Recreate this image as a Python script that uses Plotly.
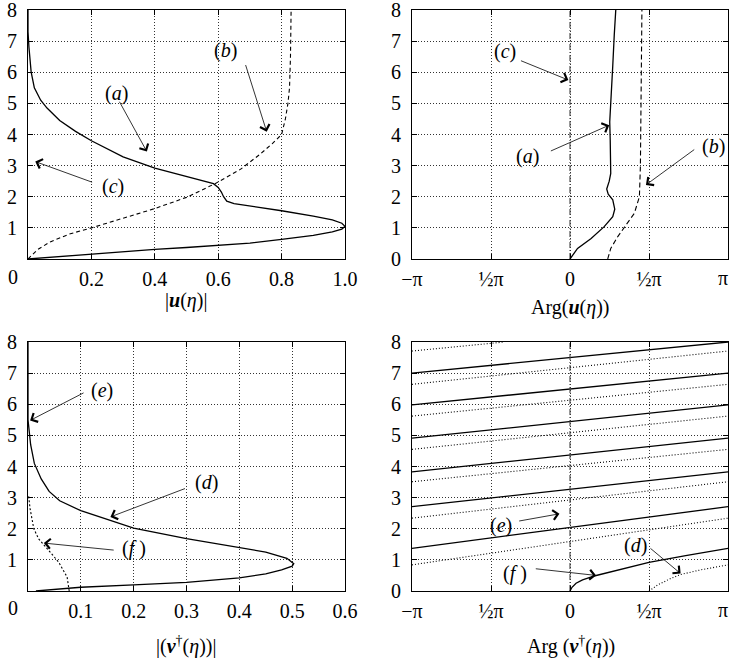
import math
import plotly.graph_objects as go

PI = math.pi

# ---------------- data ----------------
# Panel 1: |u(eta)|
p1_a_abs = [0, 0.1, 0.2, 0.3, 0.4, 0.5, 0.6, 0.7, 0.8, 0.9, 0.96, 0.99, 1.0, 0.99, 0.96, 0.9, 0.8, 0.7,
            0.65, 0.627, 0.617, 0.61, 0.6, 0.585, 0.5, 0.4, 0.3, 0.2, 0.15, 0.1, 0.06, 0.04, 0.02, 0.01,
            0.003, 0.0, 0.0]
p1_a_eta = [0, 0.08, 0.16, 0.23, 0.31, 0.37, 0.43, 0.51, 0.63, 0.76, 0.87, 0.96, 1.05, 1.15, 1.26, 1.38,
            1.55, 1.7, 1.78, 1.86, 2.0, 2.15, 2.3, 2.42, 2.64, 2.92, 3.28, 3.8, 4.1, 4.45, 4.85, 5.1, 5.5,
            6.0, 6.8, 7.3, 8.0]
p1_b_abs = [0, 0.01, 0.03, 0.07, 0.13, 0.2, 0.3, 0.4, 0.5, 0.59, 0.67, 0.73, 0.77, 0.8, 0.812, 0.82,
            0.825, 0.828, 0.83]
p1_b_eta = [0, 0.1, 0.3, 0.55, 0.8, 1.0, 1.3, 1.62, 1.98, 2.42, 2.88, 3.35, 3.7, 4.0, 4.5, 5.0, 5.5,
            6.5, 8.0]

# Panel 2: Arg(u(eta))
p2_a_arg = [0, 0.15, 0.42, 0.68, 0.85, 0.89, 0.85, 0.76, 0.73, 0.78, 0.81, 0.8, 0.8, 0.79, 0.82, 0.85,
            0.88, 0.91]
p2_a_eta = [0, 0.34, 0.66, 1.04, 1.36, 1.6, 1.9, 2.08, 2.25, 2.5, 2.75, 3.2, 3.8, 4.4, 5.2, 6.2, 7.2, 8.0]
p2_b_arg = [0.75, 0.81, 0.95, 1.14, 1.28, 1.34, 1.38, 1.40, 1.41, 1.43]
p2_b_eta = [0, 0.34, 0.72, 1.15, 1.47, 1.79, 2.0, 3.0, 5.0, 8.0]
p2_c_arg = [0, 0]
p2_c_eta = [0, 8]

# Panel 3: |v†(eta)|
p3_d_abs = [0.015, 0.05, 0.1, 0.2, 0.3, 0.4, 0.45, 0.48, 0.5, 0.503, 0.49, 0.45, 0.4, 0.3, 0.2, 0.15,
            0.1, 0.06, 0.04, 0.025, 0.012, 0.005, 0.002, 0.0, 0.0]
p3_d_eta = [0, 0.05, 0.12, 0.2, 0.28, 0.42, 0.55, 0.68, 0.8, 0.88, 1.05, 1.25, 1.4, 1.68, 2.02, 2.3,
            2.58, 2.9, 3.2, 3.6, 4.1, 4.7, 5.2, 5.5, 8.0]
p3_f_abs = [0.078, 0.074, 0.058, 0.036, 0.02, 0.011, 0.004, 0.001]
p3_f_eta = [0, 0.45, 0.93, 1.36, 1.68, 2.0, 2.64, 3.07]

# Panel 4: Arg(v†(eta)) -- wrapped branches (None separates branches)
p4_solid_arg = [0, 0.04, 0.12, 0.25, 0.5, 0.9, 1.57, 2.3, PI, None,
                -PI, PI, None, -PI, PI, None, -PI, PI, None, -PI, PI, None, -PI, PI, None, -PI, PI]
p4_solid_eta = [0, 0.12, 0.25, 0.36, 0.49, 0.65, 0.92, 1.14, 1.37, None,
                1.37, 2.71, None, 2.71, 3.83, None, 3.83, 4.91, None, 4.91, 5.98, None, 5.98, 7.0, None,
                7.0, 8.0]
p4_dot_arg = [1.571, 1.75, 2.0, 2.2, 2.6, PI, None,
              -PI, PI, None, -PI, PI, None, -PI, PI, None, -PI, PI, None, -PI, PI, None, -PI, PI, None,
              -PI, -1.3]
p4_dot_eta = [0, 0.2, 0.4, 0.53, 0.68, 0.84, None,
              0.84, 2.34, None, 2.34, 3.51, None, 3.51, 4.55, None, 4.55, 5.62, None, 5.62, 6.64, None,
              6.64, 7.71, None, 7.71, 8.0]
p4_e_arg = [0, 0]
p4_e_eta = [0, 8]

eta_ticks = [0, 1, 2, 3, 4, 5, 6, 7, 8]
p1_xticks = [0.2, 0.4, 0.6, 0.8, 1.0]
p1_xlabels = ["0.2", "0.4", "0.6", "0.8", "1.0"]
p3_xticks = [0.1, 0.2, 0.3, 0.4, 0.5, 0.6]
p3_xlabels = ["0.1", "0.2", "0.3", "0.4", "0.5", "0.6"]
arg_ticks = [-PI, -PI / 2, 0, PI / 2]
arg_labels = ["\u2212\u03c0", "\u00bd\u03c0", "0", "\u00bd\u03c0"]
arg_end_label = "\u03c0"

# ---------------- figure ----------------
W, H = 730, 658
FONT = "'Liberation Serif', 'Times New Roman', Times, serif"
fig = go.Figure()


def add_line(x, y, ax, dash="solid", width=1.3, color="black"):
    fig.add_trace(go.Scatter(x=x, y=y, mode="lines", xaxis="x" + ax, yaxis="y" + ax,
                             line=dict(color=color, width=width, dash=dash),
                             connectgaps=False, showlegend=False, hoverinfo="skip"))


add_line(p1_a_abs, p1_a_eta, "")
add_line(p1_b_abs, p1_b_eta, "", dash="4px,3px", width=1.1)
add_line(p2_a_arg, p2_a_eta, "2")
add_line(p2_b_arg, p2_b_eta, "2", dash="5px,3px", width=1.1)
add_line(p2_c_arg, p2_c_eta, "2", dash="6px,2px,1px,2px", width=1.1, color="#444")
add_line(p3_d_abs, p3_d_eta, "3")
add_line(p3_f_abs, p3_f_eta, "3", dash="2px,2px", width=1.1)
add_line(p4_solid_arg, p4_solid_eta, "4")
add_line(p4_dot_arg, p4_dot_eta, "4", dash="1px,2px", width=1.1, color="black")
add_line(p4_e_arg, p4_e_eta, "4", dash="6px,2px,1px,2px", width=1.1, color="#444")

doms = {
    "": ([28, 345], [10, 259]),
    "2": ([412, 728], [10, 259]),
    "3": ([28, 345], [342, 591]),
    "4": ([412, 728], [342, 591]),
}


def xd(px):
    return px / W


def yd(py):
    return 1 - py / H


common = dict(showgrid=True, gridcolor="#333", griddash="1px,2px", gridwidth=1,
              showline=True, mirror="ticks", linecolor="black", linewidth=1.2,
              ticks="inside", ticklen=5, tickcolor="black", zeroline=False,
              tickfont=dict(family=FONT, size=20, color="black"), automargin=False,
              fixedrange=True, ticklabeloverflow="allow")

xranges = {"": [0, 1], "2": [-PI, PI], "3": [0, 0.6], "4": [-PI, PI]}
xtv = {"": (p1_xticks, p1_xlabels), "2": (arg_ticks, arg_labels),
       "3": (p3_xticks, p3_xlabels), "4": (arg_ticks, arg_labels)}
ytv = {"": eta_ticks[1:], "2": eta_ticks, "3": eta_ticks[1:], "4": eta_ticks}

layout = {}
for k, (xs, ys) in doms.items():
    layout["xaxis" + k] = dict(common, domain=[xd(xs[0]), xd(xs[1])], range=xranges[k],
                               anchor="y" + k, tickvals=xtv[k][0], ticktext=xtv[k][1],
                               ticklabelstandoff=2)
    layout["yaxis" + k] = dict(common, domain=[yd(ys[1]), yd(ys[0])], range=[0, 8],
                               anchor="x" + k, tickvals=ytv[k],
                               ticktext=[str(v) for v in ytv[k]], ticklabelstandoff=6)

fig.update_layout(**layout)

ann = []
tf = dict(family=FONT, size=20, color="black")


def label(ax, x, y, t):
    ann.append(dict(xref="x" + ax, yref="y" + ax, x=x, y=y, text=t, showarrow=False, font=tf))


def arrow(ax, tail, head):
    ann.append(dict(xref="x" + ax, yref="y" + ax, axref="x" + ax, ayref="y" + ax,
                    x=head[0], y=head[1], ax=tail[0], ay=tail[1], text="", showarrow=True,
                    arrowhead=4, arrowsize=2.4, arrowwidth=0.8, arrowcolor="black", standoff=0))


# panel 1
label("", 0.28, 5.32, "(<i>a</i>)")
arrow("", (0.286, 5.1), (0.375, 3.45))
label("", 0.622, 6.71, "(<i>b</i>)")
arrow("", (0.685, 6.28), (0.753, 4.09))
label("", 0.268, 2.32, "(<i>c</i>)")
arrow("", (0.207, 2.45), (0.023, 3.13))
# panel 2
label("2", -1.30, 6.66, "(<i>c</i>)")
arrow("2", (-1.005, 6.39), (-0.033, 5.75))
label("2", -0.853, 3.29, "(<i>a</i>)")
arrow("2", (-0.41, 3.45), (0.78, 4.30))
label("2", 2.86, 3.61, "(<i>b</i>)")
arrow("2", (2.5, 3.55), (1.51, 2.38))
# panel 3
label("3", 0.14, 6.45, "(<i>e</i>)")
arrow("3", (0.108, 6.39), (0.004, 5.48))
label("3", 0.338, 3.5, "(<i>d</i>)")
arrow("3", (0.30, 3.31), (0.156, 2.38))
label("3", 0.20, 1.36, "(<i>f</i> )")
arrow("3", (0.165, 1.31), (0.03, 1.54))
# panel 4
label("4", -1.37, 2.11, "(<i>e</i>)")
arrow("4", (-1.04, 2.24), (-0.21, 2.48))
label("4", 1.31, 1.47, "(<i>d</i>)")
arrow("4", (1.57, 1.41), (2.2, 0.56))
label("4", -1.10, 0.56, "(<i>f</i> )")
arrow("4", (-0.71, 0.72), (0.52, 0.50))


# axis titles and corner labels
def ptext(xpx, ypx, t, xanchor="center"):
    ann.append(dict(xref="paper", yref="paper", x=xd(xpx), y=yd(ypx), text=t, showarrow=False,
                    font=tf, xanchor=xanchor, yanchor="middle"))


ptext(186, 301, "|<b><i>u</i></b>(<i>\u03b7</i>)|")
ptext(570, 307, "Arg(<b><i>u</i></b>(<i>\u03b7</i>))")
ptext(186, 645, "|(<b><i>v</i></b><sup>\u2020</sup>(<i>\u03b7</i>))|")
ptext(571, 645, "Arg (<b><i>v</i></b><sup>\u2020</sup>(<i>\u03b7</i>))")
ptext(13, 277, "0")
ptext(13, 608, "0")
ptext(730, 278, arg_end_label, xanchor="right")
ptext(730, 610, arg_end_label, xanchor="right")

fig.update_layout(annotations=ann, width=W, height=H, margin=dict(l=0, r=0, t=0, b=0),
                  paper_bgcolor="white", plot_bgcolor="white", showlegend=False,
                  font=dict(family=FONT, size=20, color="black"))

fig.write_html("out.html")
